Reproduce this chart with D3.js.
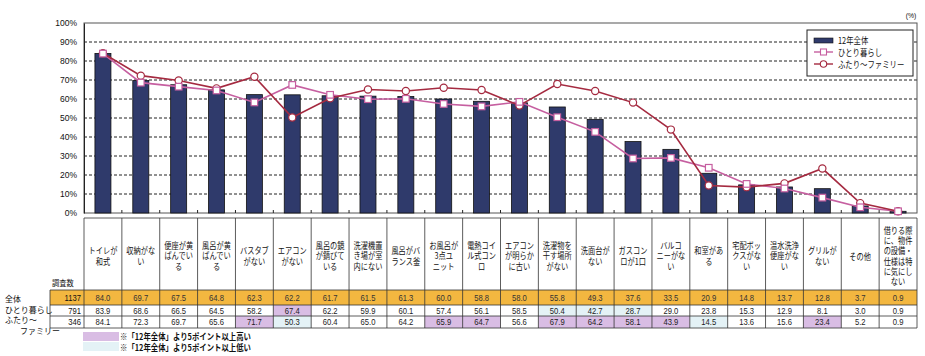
<!DOCTYPE html>
<html><head><meta charset="utf-8">
<script src="https://cdn.jsdelivr.net/npm/d3@7"></script>
<style>
html,body{margin:0;padding:0;background:#fff;}
svg{display:block;font-family:"Noto Sans CJK JP","Noto Sans",sans-serif;}
</style></head>
<body>
<svg id="c" width="925" height="356"></svg>
<script>
const categories = [
 "トイレが\n和式","収納がな\nい","便座が黄\nばんでい\nる","風呂が黄\nばんでい\nる","バスタブ\nがない",
 "エアコン\nがない","風呂の鏡\nが錆びて\nいる","洗濯機置\nき場が室\n内にない","風呂がバ\nランス釜","お風呂が\n3点ユ\nニット",
 "電熱コイ\nル式コン\nロ","エアコン\nが明らか\nに古い","洗濯物を\n干す場所\nがない","洗面台が\nない","ガスコン\nロが1口",
 "バルコ\nニーがな\nい","和室があ\nる","宅配ボッ\nクスがな\nい","温水洗浄\n便座がな\nい","グリルが\nない",
 "その他","借りる際\nに、物件\nの設備・\n仕様は特\nに気にし\nない"];
const totalValues  = [84.0,69.7,67.5,64.8,62.3,62.2,61.7,61.5,61.3,60.0,58.8,58.0,55.8,49.3,37.6,33.5,20.9,14.8,13.7,12.8,3.7,0.9];
const singleValues = [83.9,68.6,66.5,64.5,58.2,67.4,62.2,59.9,60.1,57.4,56.1,58.5,50.4,42.7,28.7,29.0,23.8,15.3,12.9,8.1,3.0,0.9];
const familyValues = [84.1,72.3,69.7,65.6,71.7,50.3,60.4,65.0,64.2,65.9,64.7,56.6,67.9,64.2,58.1,43.9,14.5,13.6,15.6,23.4,5.2,0.9];
const seriesNames = ["12年全体","ひとり暮らし","ふたり〜ファミリー"];
const rowLabels = ["全体","ひとり暮らし","ふたり〜","ファミリー"];
const counts = [1137, 791, 346];
const yTickValues = [0,10,20,30,40,50,60,70,80,90,100];
const notes = ["※「12年全体」より5ポイント以上高い","※「12年全体」より5ポイント以上低い"];

const svg = d3.select("#c");
const L = 84, R = 917, T = 23, B = 213;
const x = d3.scaleBand().domain(d3.range(categories.length)).range([L, R]).padding(0);
const y = d3.scaleLinear().domain([0, 100]).range([B, T]);
const cx = i => x(i) + x.bandwidth() / 2;
const barW = 16;

const BAR = "#2f3a6b", PINK = "#c65fa0", RED = "#a52a40";
const ORANGE = "#f3b740", PURPLE = "#d9bde4", LBLUE = "#e4f2f6";
const NUMFONT = "Liberation Sans";

// multi-line text block as one <text> with tspans
function mtext(g, lines, px, py, size, sx, anchor, lh, opts = {}) {
  const t = g.append("text")
    .attr("transform", `translate(${px},${py}) scale(${sx},1)`)
    .attr("font-size", size)
    .attr("text-anchor", anchor || "start")
    .attr("fill", opts.fill || "#111");
  if (opts.weight) t.attr("font-weight", opts.weight);
  if (opts.family) t.attr("font-family", opts.family);
  lines.forEach((ln, k) => {
    t.append("tspan").attr("x", 0).attr("y", k * lh).text(ln);
  });
  return t;
}

// gridlines
svg.append("g").selectAll("line").data(yTickValues.filter(v => v > 0 && v < 100)).join("line")
  .attr("x1", L).attr("x2", R).attr("y1", d => y(d)).attr("y2", d => y(d))
  .attr("stroke", "#222").attr("stroke-width", 1).attr("stroke-dasharray", "3,2");

// frame
svg.append("rect").attr("x", L).attr("y", T).attr("width", R - L).attr("height", B - T)
  .attr("fill", "none").attr("stroke", "#555").attr("stroke-width", 1);

// y axis
const yAxis = svg.append("g").attr("transform", `translate(${L},0)`)
  .call(d3.axisLeft(y).tickValues(yTickValues).tickSize(0).tickPadding(7).tickFormat(d => d + "%"));
yAxis.select(".domain").attr("stroke", "#222");
yAxis.selectAll("text").attr("font-size", 8.5).attr("fill", "#111").attr("font-family", NUMFONT);

// x ticks (inner, between categories)
svg.append("g").selectAll("line").data(d3.range(1, categories.length)).join("line")
  .attr("x1", d => x(d)).attr("x2", d => x(d)).attr("y1", B).attr("y2", B - 3)
  .attr("stroke", "#222");

// bars
svg.append("g").selectAll("rect").data(totalValues).join("rect")
  .attr("x", (d, i) => cx(i) - barW / 2).attr("width", barW)
  .attr("y", d => y(d)).attr("height", d => B - y(d))
  .attr("fill", BAR).attr("stroke", "#111").attr("stroke-width", 0.8);

// lines
const line = d3.line().x((d, i) => cx(i)).y(d => y(d));
svg.append("path").datum(singleValues).attr("d", line).attr("fill", "none").attr("stroke", PINK).attr("stroke-width", 1.6);
svg.append("path").datum(familyValues).attr("d", line).attr("fill", "none").attr("stroke", RED).attr("stroke-width", 1.6);
svg.append("g").selectAll("circle").data(familyValues).join("circle")
  .attr("cx", (d, i) => cx(i)).attr("cy", d => y(d)).attr("r", 3.6)
  .attr("fill", "#fff").attr("stroke", RED).attr("stroke-width", 1.2);
svg.append("g").selectAll("rect").data(singleValues).join("rect")
  .attr("x", (d, i) => cx(i) - 3.3).attr("y", d => y(d) - 3.3).attr("width", 6.6).attr("height", 6.6)
  .attr("fill", "#fff").attr("stroke", PINK).attr("stroke-width", 1.2);

// (%)
mtext(svg, ["(%)"], 911, 18, 8, 0.85, "middle", 0, { family: NUMFONT });

// legend
const lg = svg.append("g");
lg.append("rect").attr("x", 807).attr("y", 30).attr("width", 106).attr("height", 46)
  .attr("fill", "#fff").attr("stroke", "#222").attr("stroke-width", 1);
lg.append("rect").attr("x", 814).attr("y", 38).attr("width", 19).attr("height", 5).attr("fill", BAR).attr("stroke", "#111").attr("stroke-width", 0.6);
lg.append("line").attr("x1", 814).attr("x2", 833).attr("y1", 52).attr("y2", 52).attr("stroke", PINK).attr("stroke-width", 1.4);
lg.append("rect").attr("x", 820.5).attr("y", 49).attr("width", 6).attr("height", 6).attr("fill", "#fff").attr("stroke", PINK).attr("stroke-width", 1.1);
lg.append("line").attr("x1", 814).attr("x2", 833).attr("y1", 64).attr("y2", 64).attr("stroke", RED).attr("stroke-width", 1.4);
lg.append("circle").attr("cx", 823.5).attr("cy", 64).attr("r", 3.2).attr("fill", "#fff").attr("stroke", RED).attr("stroke-width", 1.1);
mtext(lg, seriesNames, 838, 44, 9, 0.82, "start", 12);

// table
const tb = svg.append("g");
const hTop = 218, r1 = 290, r2 = 305, r3 = 316, tBot = 328, cntL = 50;
tb.append("rect").attr("x", cntL).attr("y", r1).attr("width", R - cntL).attr("height", r2 - r1).attr("fill", ORANGE);
const hl = [];
singleValues.forEach((v, i) => { const dlt = v - totalValues[i]; if (dlt >= 5) hl.push([i, r2, r3, PURPLE]); else if (dlt <= -5) hl.push([i, r2, r3, LBLUE]); });
familyValues.forEach((v, i) => { const dlt = v - totalValues[i]; if (dlt >= 5) hl.push([i, r3, tBot, PURPLE]); else if (dlt <= -5) hl.push([i, r3, tBot, LBLUE]); });
tb.selectAll("rect.hl").data(hl).join("rect").attr("class", "hl")
  .attr("x", d => x(d[0])).attr("y", d => d[1]).attr("width", x.bandwidth()).attr("height", d => d[2] - d[1]).attr("fill", d => d[3]);
[[L, hTop], [cntL, r1], [cntL, r2], [cntL, r3], [cntL, tBot]].forEach(([x0, yy]) =>
  tb.append("line").attr("x1", x0).attr("x2", R).attr("y1", yy).attr("y2", yy).attr("stroke", "#333").attr("stroke-width", 0.8));
d3.range(categories.length + 1).forEach(i => {
  const xx = i < categories.length ? x(i) : R;
  tb.append("line").attr("x1", xx).attr("x2", xx).attr("y1", hTop).attr("y2", tBot).attr("stroke", "#333").attr("stroke-width", 0.8);
});
tb.append("line").attr("x1", cntL).attr("x2", cntL).attr("y1", r1).attr("y2", tBot).attr("stroke", "#333").attr("stroke-width", 0.8);

// header texts
categories.forEach((c, i) => {
  const lines = c.split("\n");
  const lh = 10.3;
  const startY = 256 - (lines.length - 1) * lh / 2 + 3.5;
  mtext(tb, lines, cx(i), startY, 8.6, 0.84, "middle", lh);
});
mtext(tb, ["調査数"], 52, 286, 8.5, 0.85, "start", 0);

// values
const rowsY = [r1, r2, r3];
const rowsH = [r2 - r1, r3 - r2, tBot - r3];
[totalValues, singleValues, familyValues].forEach((arr, r) => {
  const ty = rowsY[r] + rowsH[r] / 2 + 3;
  arr.forEach((v, i) => mtext(tb, [v.toFixed(1)], cx(i), ty, 8.5, 0.9, "middle", 0, { family: NUMFONT, fill: r === 0 ? "#333" : "#222" }));
  mtext(tb, [String(counts[r])], L - 3, ty, 8.5, 0.9, "end", 0, { family: NUMFONT });
});

// row labels
const rowLabelPos = [[5, 302], [5, 312.7], [5, 323.4], [20, 334.1]];
rowLabels.forEach((s, k) => mtext(svg, [s], rowLabelPos[k][0], rowLabelPos[k][1], 8.4, 0.95, "start", 0));

// notes
svg.append("rect").attr("x", 83).attr("y", 332).attr("width", 36).attr("height", 9).attr("fill", PURPLE);
svg.append("rect").attr("x", 83).attr("y", 342).attr("width", 36).attr("height", 9).attr("fill", LBLUE);
mtext(svg, notes, 120, 340, 8.8, 0.84, "start", 10.8, { weight: "bold" });
</script>
</body></html>
